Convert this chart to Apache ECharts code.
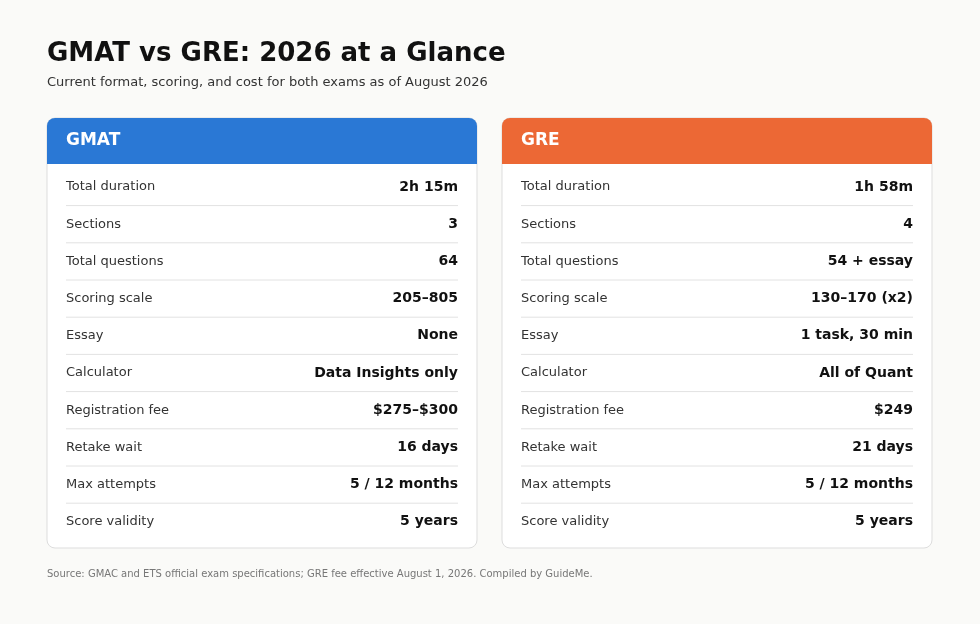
<!DOCTYPE html>
<html>
<head>
<meta charset="utf-8">
<title>GMAT vs GRE</title>
<script src="https://cdn.jsdelivr.net/npm/echarts@6/dist/echarts.min.js"></script>
<style>body{margin:0;background:#fafaf8}</style>
</head>
<body>
<div id="main" style="width:980px;height:624px;"></div>
<script>
var rowLabels = ['Total duration', 'Sections', 'Total questions', 'Scoring scale', 'Essay',
    'Calculator', 'Registration fee', 'Retake wait', 'Max attempts', 'Score validity'];
var gmatValues = ['2h 15m', '3', '64', '205–805', 'None', 'Data Insights only',
    '$275–$300', '16 days', '5 / 12 months', '5 years'];
var greValues = ['1h 58m', '4', '54 + essay', '130–170 (x2)', '1 task, 30 min', 'All of Quant',
    '$249', '21 days', '5 / 12 months', '5 years'];
var exams = ['GMAT', 'GRE'];
var examColors = ['#2a78d5', '#ec6835'];

var font = 'DejaVu Sans';
var chart = echarts.init(document.getElementById('main'));

function card(x, name, color, values) {
    var w = 430, top = 118, h = 430;
    var els = [
        { type: 'rect', shape: { x: x, y: top, width: w, height: h, r: 8 },
          style: { fill: '#ffffff', stroke: '#dddddd', lineWidth: 1 } },
        { type: 'rect', shape: { x: x, y: top, width: w, height: 46, r: [8, 8, 0, 0] },
          style: { fill: color } },
        { type: 'text', x: x + 19, y: top + 23,
          style: { text: name, fill: '#fff', font: 'bold 17px ' + font, verticalAlign: 'middle' } }
    ];
    var step = 37.2;
    rowLabels.forEach(function (lab, i) {
        var cy = 187 + i * step;
        els.push({ type: 'text', x: x + 19, y: cy,
            style: { text: lab, fill: '#333', font: '13px ' + font, verticalAlign: 'middle' } });
        els.push({ type: 'text', x: x + w - 19, y: cy,
            style: { text: values[i], fill: '#111', font: 'bold 14px ' + font, align: 'right', verticalAlign: 'middle' } });
        if (i < rowLabels.length - 1) {
            els.push({ type: 'line', shape: { x1: x + 19, y1: cy + step / 2, x2: x + w - 19, y2: cy + step / 2 },
                style: { stroke: '#e2e2e2', lineWidth: 1 } });
        }
    });
    return els;
}

var graphics = [
    { type: 'text', x: 47, y: 54, style: { text: 'GMAT vs GRE: 2026 at a Glance', fill: '#111', font: 'bold 26px ' + font, verticalAlign: 'middle' } },
    { type: 'text', x: 47, y: 83, style: { text: 'Current format, scoring, and cost for both exams as of August 2026', fill: '#333', font: '13px ' + font, verticalAlign: 'middle' } },
    { type: 'text', x: 47, y: 574, style: { text: 'Source: GMAC and ETS official exam specifications; GRE fee effective August 1, 2026. Compiled by GuideMe.', fill: '#777', font: '10px ' + font, verticalAlign: 'middle' } }
];
graphics = graphics.concat(card(47, exams[0], examColors[0], gmatValues));
graphics = graphics.concat(card(502, exams[1], examColors[1], greValues));

chart.setOption({
    backgroundColor: '#fafaf8',
    animation: false,
    graphic: graphics
});
</script>
</body>
</html>
